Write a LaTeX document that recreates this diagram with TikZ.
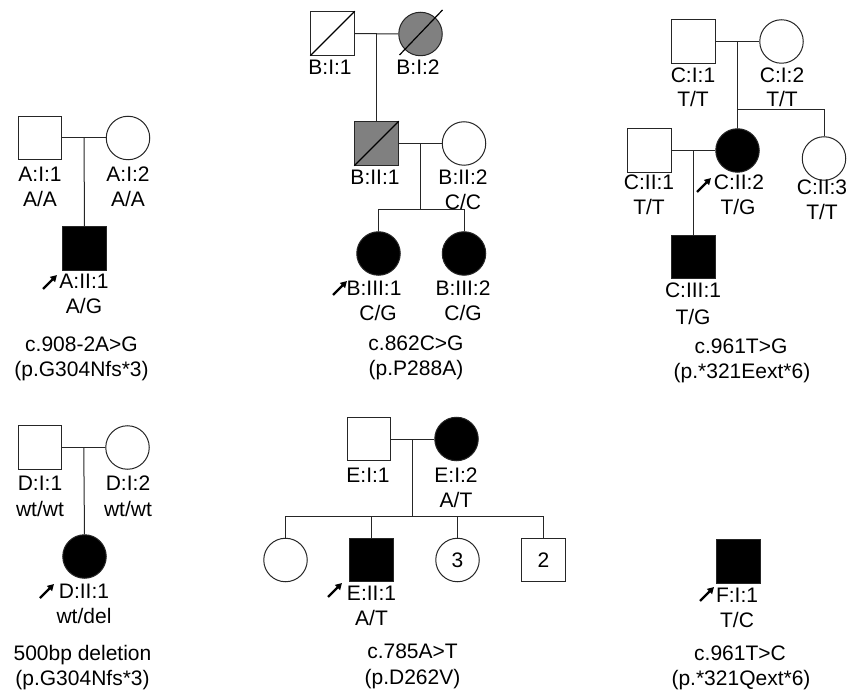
\documentclass[tikz,border=0pt]{standalone}
\usepackage{fontspec}
\setmainfont{Liberation Sans}
\usetikzlibrary{arrows.meta,calc}
\newcommand\lbf{\fontsize{21}{25}\selectfont}
\tikzset{
  lc/.style={draw=black!85, line width=1pt},
  male/.style={lc, rectangle, minimum size=43.5pt, inner sep=0pt, fill=white, font=\lbf},
  female/.style={lc, circle, minimum size=43.5pt, inner sep=0pt, fill=white, font=\lbf},
  aff/.style={fill=black},
  carr/.style={fill=black!50},
  lbl/.style={anchor=base, inner sep=0pt, font=\lbf},
  link/.style={draw=black!85, line width=1pt},
  slash/.style={draw=black, line width=1.2pt},
  proband/.style={draw=black, line width=2.2pt, -{Triangle[length=6.5pt,width=7pt]}},
}
\begin{document}
\begin{tikzpicture}[x=1pt,y=-1pt]
\useasboundingbox (0,0) rectangle (853,692);

% ---------------- Pedigree A ----------------
\node[male] (A1) at (40,138) {};
\node[female] (A2) at (128,138) {};
\node[male,aff] (A3) at (84.5,248.5) {};
\coordinate (Am) at ($(A1.east)!0.5!(A2.west)$);
\draw[link] (A1.east) -- (A2.west);
\draw[link] (Am) -- (A3.north);
\node[lbl] (lA1) at (40,182) {A:I:1};
\node[lbl] (gA1) at (40,207) {A/A};
\node[lbl] (lA2) at (128,182) {A:I:2};
\node[lbl] (gA2) at (128,207) {A/A};
\node[lbl] (lA3) at (84,288) {A:II:1};
\node[lbl] (gA3) at (84,313) {A/G};
\node[lbl] (cA) at (81.5,351) {c.908-2A>G};
\node[lbl] (pA) at (81.5,376) {(p.G304Nfs*3)};
\draw[proband] (43,289) -- ++(14,-14);

% ---------------- Pedigree B ----------------
\node[male] (B1) at (332.5,33.5) {};
\node[female,carr] (B2) at (420.5,34) {};
\node[male,carr] (B3) at (376.5,143.5) {};
\node[female] (B4) at (464,143.5) {};
\node[female,aff] (B5) at (378.5,253.5) {};
\node[female,aff] (B6) at (464,253.5) {};
\draw[slash] (B1.south west) -- (B1.north east);
\draw[slash] ($(B2.center)+(-21,21)$) -- ($(B2.center)+(22,-24)$);
\draw[slash] (B3.south west) -- (B3.north east);
\coordinate (Bm1) at ($(B1.east)!0.5!(B2.west)$);
\coordinate (Bm2) at ($(B3.east)!0.5!(B4.west)$);
\draw[link] (B1.east) -- (B2.west);
\draw[link] (Bm1) -- (Bm1 |- B3.north);
\draw[link] (B3.east) -- (B4.west);
\coordinate (Bs) at ($(Bm2)+(0,66.5)$);
\draw[link] (Bm2) -- (Bs);
\draw[link] (B5.north) -- (B5.north |- Bs) -- (B6.north |- Bs) -- (B6.north);
\node[lbl] (lB1) at (330,75) {B:I:1};
\node[lbl] (lB2) at (418,75) {B:I:2};
\node[lbl] (lB3) at (375,185) {B:II:1};
\node[lbl] (lB4) at (463,185) {B:II:2};
\node[lbl] (gB4) at (463,210) {C/C};
\node[lbl] (lB5) at (374,295) {B:III:1};
\node[lbl] (gB5) at (378,320) {C/G};
\node[lbl] (lB6) at (463,295) {B:III:2};
\node[lbl] (gB6) at (463,320) {C/G};
\node[lbl] (cB) at (416,350) {c.862C>G};
\node[lbl] (pB) at (416,375) {(p.P288A)};
\draw[proband] (333,295) -- ++(14,-14);

% ---------------- Pedigree C ----------------
\node[male] (C1) at (693.5,41.5) {};
\node[female] (C2) at (781.5,41.5) {};
\node[male] (C3) at (649.5,150.5) {};
\node[female,aff] (C4) at (737.5,150.5) {};
\node[female] (C5) at (824,158.5) {};
\node[male,aff] (C6) at (693.5,257) {};
\coordinate (Cm1) at ($(C1.east)!0.5!(C2.west)$);
\coordinate (Cm2) at ($(C3.east)!0.5!(C4.west)$);
\draw[link] (C1.east) -- (C2.west);
\coordinate (Cs) at ($(Cm1)+(0,68.5)$);
\draw[link] (Cm1) -- (C4.north);
\draw[link] (Cs) -- (C5.north |- Cs) -- (C5.north);
\draw[link] (C3.east) -- (C4.west);
\draw[link] (Cm2) -- (C6.north);
\node[lbl] (lC1) at (693,83) {C:I:1};
\node[lbl] (gC1) at (693,107) {T/T};
\node[lbl] (lC2) at (782,83) {C:I:2};
\node[lbl] (gC2) at (782,107) {T/T};
\node[lbl] (lC3) at (649,190) {C:II:1};
\node[lbl] (gC3) at (649,215) {T/T};
\node[lbl] (lC4) at (739,190) {C:II:2};
\node[lbl] (gC4) at (738,215) {T/G};
\node[lbl] (lC5) at (822,195) {C:II:3};
\node[lbl] (gC5) at (822,220) {T/T};
\node[lbl] (lC6) at (693,298) {C:III:1};
\node[lbl] (gC6) at (693,324) {T/G};
\node[lbl] (cC) at (741,353) {c.961T>G};
\node[lbl] (pC) at (742,378) {(p.*321Eext*6)};
\draw[proband] (697,192) -- ++(14,-14);

% ---------------- Pedigree D ----------------
\node[male] (D1) at (40,447.5) {};
\node[female] (D2) at (127.5,447.5) {};
\node[female,aff] (D3) at (84.5,556.5) {};
\coordinate (Dm) at ($(D1.east)!0.5!(D2.west)$);
\draw[link] (D1.east) -- (D2.west);
\draw[link] (Dm) -- (D3.north);
\node[lbl] (lD1) at (40,490) {D:I:1};
\node[lbl] (gD1) at (40,516) {wt/wt};
\node[lbl] (lD2) at (128,490) {D:I:2};
\node[lbl] (gD2) at (128,516) {wt/wt};
\node[lbl] (lD3) at (84,598) {D:II:1};
\node[lbl] (gD3) at (84,623) {wt/del};
\node[lbl] (cD) at (82.5,660) {500bp deletion};
\node[lbl] (pD) at (82.5,685) {(p.G304Nfs*3)};
\draw[proband] (40,598) -- ++(14,-14);

% ---------------- Pedigree E ----------------
\node[male] (E1) at (369,439) {};
\node[female,aff] (E2) at (456.5,439) {};
\node[female] (E3) at (285.5,560) {};
\node[male,aff] (E4) at (371.5,560) {};
\node[female] (E5) at (457.5,560) {3};
\node[male] (E6) at (543.5,560) {2};
\coordinate (Em) at ($(E1.east)!0.5!(E2.west)$);
\draw[link] (E1.east) -- (E2.west);
\coordinate (Es) at ($(Em)+(0,77)$);
\draw[link] (Em) -- (Es);
\draw[link] (E3.north) -- (E3.north |- Es) -- (E6.north |- Es) -- (E6.north);
\draw[link] (E4.north) -- (E4.north |- Es);
\draw[link] (E5.north) -- (E5.north |- Es);
\node[lbl] (lE1) at (368,482) {E:I:1};
\node[lbl] (lE2) at (456,482) {E:I:2};
\node[lbl] (gE2) at (456,507) {A/T};
\node[lbl] (lE4) at (371.5,600) {E:II:1};
\node[lbl] (gE4) at (371.5,625) {A/T};
\node[lbl] (cE) at (412.5,658) {c.785A>T};
\node[lbl] (pE) at (412.5,684) {(p.D262V)};
\draw[proband] (328,597) -- ++(14,-14);

% ---------------- Pedigree F ----------------
\node[male,aff] (F1) at (738.5,561.5) {};
\node[lbl] (lF1) at (737,602) {F:I:1};
\node[lbl] (gF1) at (737,627) {T/C};
\node[lbl] (cF) at (740,660) {c.961T>C};
\node[lbl] (pF) at (741,685) {(p.*321Qext*6)};
\draw[proband] (700,601) -- ++(14,-14);
\end{tikzpicture}
\end{document}
